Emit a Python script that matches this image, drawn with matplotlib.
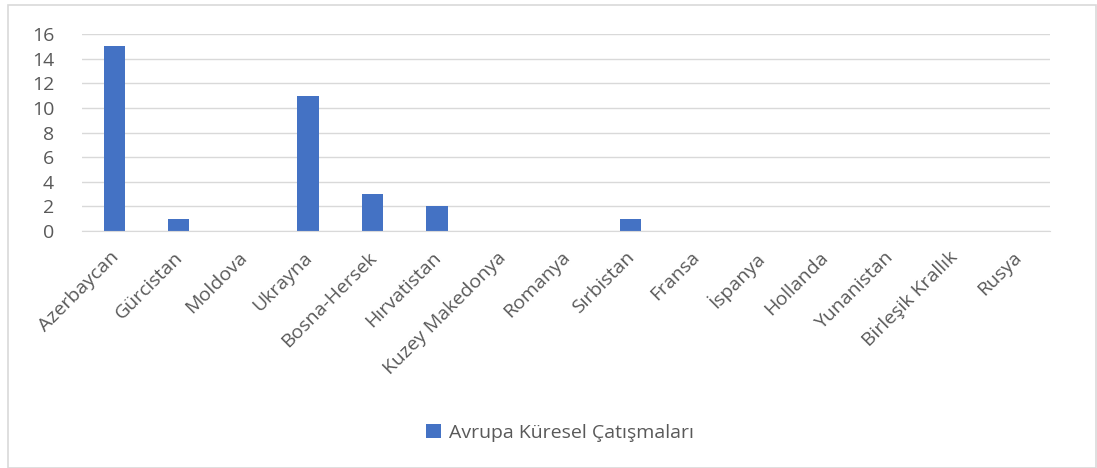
import matplotlib.pyplot as plt
from matplotlib.patches import Rectangle

countries = ['Azerbaycan', 'Gürcistan', 'Moldova', 'Ukrayna', 'Bosna-Hersek', 'Hırvatistan',
             'Kuzey Makedonya', 'Romanya', 'Sırbistan', 'Fransa', 'İspanya', 'Hollanda',
             'Yunanistan', 'Birleşik Krallık', 'Rusya']
conflicts = [15, 1, 0, 11, 3, 2, 0, 0, 1, 0, 0, 0, 0, 0, 0]
series_name = 'Avrupa Küresel Çatışmaları'

plt.rcParams['font.family'] = ['Open Sans', 'DejaVu Sans']
txt = '#595959'
fs = 14

fig = plt.figure(figsize=(10.97, 4.68), dpi=100)
W, H = 1097, 468
# plot area in pixels: left 82, right 1050, top 34 (y=16), bottom 231 (y=0)
ax = fig.add_axes([82 / W, 1 - 231 / H, (1050 - 82) / W, (231 - 34) / H])

x = range(len(countries))
ax.bar(x, conflicts, width=0.33, color='#4472C4', label=series_name, zorder=3)
ax.set_xlim(-0.5, len(countries) - 0.5)
ax.set_ylim(0, 16)
ax.set_yticks(range(0, 17, 2))
ax.set_xticks(list(x))
ax.set_xticklabels(countries, rotation=45, ha='right', va='center_baseline',
                   rotation_mode='anchor', color=txt, fontsize=fs)
ax.tick_params(axis='y', labelsize=fs, labelcolor=txt, length=0, pad=20)
ax.tick_params(axis='x', length=0, pad=16)
ax.grid(axis='y', color='#d9d9d9', linewidth=1, zorder=0)
for s in ['top', 'right', 'left']:
    ax.spines[s].set_visible(False)
ax.spines['bottom'].set_color('#d9d9d9')
ax.spines['bottom'].set_zorder(4)

fig.legend(loc='center', bbox_to_anchor=(560 / W, 1 - 433 / H), frameon=False,
           fontsize=fs, labelcolor=txt, handlelength=0.75, handleheight=0.75, handletextpad=0.4)

fig.patches.append(Rectangle((8 / W, 0), (W - 9) / W, (H - 5) / H, transform=fig.transFigure,
                             fill=False, edgecolor='#d9d9d9', linewidth=1.2))

fig.savefig('out.png', dpi=100, facecolor='white')
